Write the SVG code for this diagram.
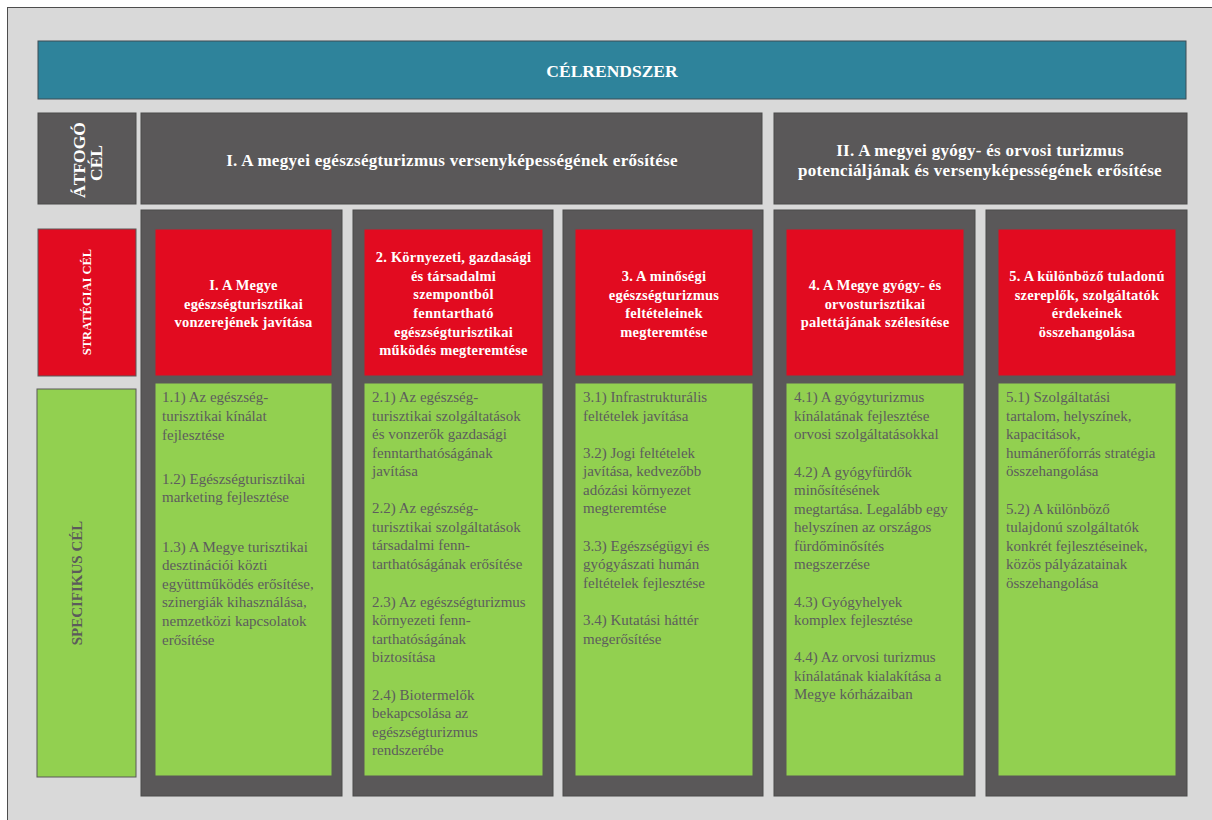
<svg xmlns="http://www.w3.org/2000/svg" width="1212" height="820" viewBox="0 0 1212 820">
<style>
.dark{fill:#5a5859;stroke:#4a4a4a;stroke-width:1}
.red{fill:#e20b20;stroke:#5a5859;stroke-width:1}
.green{fill:#92d050;stroke:#5a5859;stroke-width:1}
.hw{font-family:"Liberation Serif","Times New Roman",serif;font-weight:bold;fill:#ffffff;text-anchor:middle}
.rt{font-size:14.5px;letter-spacing:0.2px}
.gt{font-family:"Liberation Serif","Times New Roman",serif;font-size:15px;fill:#5d5d5d}
</style>
<rect x="0" y="0" width="1212" height="820" fill="#ffffff"/>
<rect x="7.5" y="7.5" width="1220" height="830" fill="#d9d9d9" stroke="#4d4d4d" stroke-width="1"/>

<g id="celrendszer">
<rect x="38" y="41" width="1148" height="58" fill="#2e839b" stroke="#3d4d55" stroke-width="1"/>
<text class="hw" x="612" y="77" font-size="17.5">CÉLRENDSZER</text>
</g>

<g id="atfogo-label">
<rect class="dark" x="38" y="113" width="98" height="91"/>
<text class="hw" font-size="17.5" transform="translate(85,160) rotate(-90)">ÁTFOGÓ</text>
<text class="hw" font-size="17.5" transform="translate(102,163) rotate(-90)">CÉL</text>
</g>

<g id="atfogo-1">
<rect class="dark" x="141" y="113" width="621" height="91"/>
<text class="hw" x="452" y="166" font-size="17" letter-spacing="0.3">I. A megyei egészségturizmus versenyképességének erősítése</text>
</g>

<g id="atfogo-2">
<rect class="dark" x="774" y="113" width="413" height="91"/>
<text class="hw" x="980" y="156" font-size="17" letter-spacing="0.3">II. A megyei gyógy- és orvosi turizmus</text>
<text class="hw" x="980" y="176" font-size="17" letter-spacing="0.3">potenciáljának és versenyképességének erősítése</text>
</g>

<g id="strategiai-label">
<rect class="red" x="38" y="229" width="98" height="147"/>
<text class="hw" font-size="12.5" transform="translate(91,302) rotate(-90)">STRATÉGIAI CÉL</text>
</g>

<g id="specifikus-label">
<rect class="green" x="37" y="389" width="99" height="388"/>
<text class="hw" font-size="15" style="fill:#5b5b5b" transform="translate(82,583) rotate(-90)">SPECIFIKUS CÉL</text>
</g>

<g id="col1">
<rect class="dark" x="141" y="210" width="201" height="586"/>
<rect class="red" x="155" y="229" width="177" height="147"/>
<text class="hw rt" x="243.5" y="290">I. A Megye</text>
<text class="hw rt" x="243.5" y="308.5">egészségturisztikai</text>
<text class="hw rt" x="243.5" y="327">vonzerejének javítása</text>
<rect class="green" x="155" y="383" width="177" height="393"/>
<text class="gt">
<tspan x="162" y="402">1.1)  Az egészség-</tspan>
<tspan x="162" y="421">turisztikai kínálat</tspan>
<tspan x="162" y="440">fejlesztése</tspan>
<tspan x="162" y="484">1.2) Egészségturisztikai</tspan>
<tspan x="162" y="502">marketing fejlesztése</tspan>
<tspan x="162" y="552">1.3) A Megye turisztikai</tspan>
<tspan x="162" y="570">desztinációi közti</tspan>
<tspan x="162" y="589">együttműködés erősítése,</tspan>
<tspan x="162" y="607">szinergiák kihasználása,</tspan>
<tspan x="162" y="626">nemzetközi kapcsolatok</tspan>
<tspan x="162" y="645">erősítése</tspan>
</text>
</g>

<g id="col2">
<rect class="dark" x="353" y="210" width="200" height="586"/>
<rect class="red" x="364" y="229" width="179" height="147"/>
<text class="hw rt" x="453.5" y="262">2. Környezeti, gazdasági</text>
<text class="hw rt" x="453.5" y="280.5">és társadalmi</text>
<text class="hw rt" x="453.5" y="299">szempontból</text>
<text class="hw rt" x="453.5" y="318">fenntartható</text>
<text class="hw rt" x="453.5" y="336.5">egészségturisztikai</text>
<text class="hw rt" x="453.5" y="355">működés megteremtése</text>
<rect class="green" x="364" y="383" width="179" height="393"/>
<text class="gt">
<tspan x="372" y="402">2.1)  Az egészség-</tspan>
<tspan x="372" y="421">turisztikai szolgáltatások</tspan>
<tspan x="372" y="439">és vonzerők gazdasági</tspan>
<tspan x="372" y="458">fenntarthatóságának</tspan>
<tspan x="372" y="476">javítása</tspan>
<tspan x="372" y="513">2.2) Az egészség-</tspan>
<tspan x="372" y="532">turisztikai szolgáltatások</tspan>
<tspan x="372" y="550">társadalmi fenn-</tspan>
<tspan x="372" y="569">tarthatóságának erősítése</tspan>
<tspan x="372" y="607">2.3) Az egészségturizmus</tspan>
<tspan x="372" y="625">környezeti fenn-</tspan>
<tspan x="372" y="644">tarthatóságának</tspan>
<tspan x="372" y="662">biztosítása</tspan>
<tspan x="372" y="700">2.4) Biotermelők</tspan>
<tspan x="372" y="718">bekapcsolása az</tspan>
<tspan x="372" y="737">egészségturizmus</tspan>
<tspan x="372" y="755">rendszerébe</tspan>
</text>
</g>

<g id="col3">
<rect class="dark" x="563" y="210" width="200" height="586"/>
<rect class="red" x="575" y="229" width="178" height="147"/>
<text class="hw rt" x="664" y="281">3. A minőségi</text>
<text class="hw rt" x="664" y="299.5">egészségturizmus</text>
<text class="hw rt" x="664" y="318">feltételeinek</text>
<text class="hw rt" x="664" y="336.5">megteremtése</text>
<rect class="green" x="575" y="383" width="178" height="393"/>
<text class="gt">
<tspan x="583" y="402">3.1)  Infrastrukturális</tspan>
<tspan x="583" y="421">feltételek javítása</tspan>
<tspan x="583" y="458">3.2) Jogi feltételek</tspan>
<tspan x="583" y="476">javítása, kedvezőbb</tspan>
<tspan x="583" y="495">adózási környezet</tspan>
<tspan x="583" y="513">megteremtése</tspan>
<tspan x="583" y="551">3.3) Egészségügyi és</tspan>
<tspan x="583" y="569">gyógyászati humán</tspan>
<tspan x="583" y="588">feltételek fejlesztése</tspan>
<tspan x="583" y="625">3.4) Kutatási háttér</tspan>
<tspan x="583" y="644">megerősítése</tspan>
</text>
</g>

<g id="col4">
<rect class="dark" x="774" y="210" width="201" height="586"/>
<rect class="red" x="786" y="229" width="178" height="147"/>
<text class="hw rt" x="875" y="290">4. A Megye gyógy- és</text>
<text class="hw rt" x="875" y="308.5">orvosturisztikai</text>
<text class="hw rt" x="875" y="327">palettájának szélesítése</text>
<rect class="green" x="786" y="383" width="178" height="393"/>
<text class="gt">
<tspan x="794" y="402">4.1)  A gyógyturizmus</tspan>
<tspan x="794" y="421">kínálatának fejlesztése</tspan>
<tspan x="794" y="439">orvosi szolgáltatásokkal</tspan>
<tspan x="794" y="477">4.2) A gyógyfürdők</tspan>
<tspan x="794" y="495">minősítésének</tspan>
<tspan x="794" y="514">megtartása. Legalább egy</tspan>
<tspan x="794" y="532">helyszínen az országos</tspan>
<tspan x="794" y="551">fürdőminősítés</tspan>
<tspan x="794" y="569">megszerzése</tspan>
<tspan x="794" y="607">4.3) Gyógyhelyek</tspan>
<tspan x="794" y="625">komplex fejlesztése</tspan>
<tspan x="794" y="662">4.4) Az orvosi turizmus</tspan>
<tspan x="794" y="681">kínálatának kialakítása a</tspan>
<tspan x="794" y="699">Megye kórházaiban</tspan>
</text>
</g>

<g id="col5">
<rect class="dark" x="986" y="210" width="201" height="586"/>
<rect class="red" x="998" y="229" width="178" height="147"/>
<text class="hw rt" x="1087" y="281">5. A különböző tuladonú</text>
<text class="hw rt" x="1087" y="299.5">szereplők, szolgáltatók</text>
<text class="hw rt" x="1087" y="318">érdekeinek</text>
<text class="hw rt" x="1087" y="336.5">összehangolása</text>
<rect class="green" x="998" y="383" width="178" height="393"/>
<text class="gt">
<tspan x="1006" y="402">5.1) Szolgáltatási</tspan>
<tspan x="1006" y="421">tartalom, helyszínek,</tspan>
<tspan x="1006" y="439">kapacitások,</tspan>
<tspan x="1006" y="458">humánerőforrás stratégia</tspan>
<tspan x="1006" y="476">összehangolása</tspan>
<tspan x="1006" y="514">5.2) A különböző</tspan>
<tspan x="1006" y="532">tulajdonú szolgáltatók</tspan>
<tspan x="1006" y="551">konkrét fejlesztéseinek,</tspan>
<tspan x="1006" y="569">közös pályázatainak</tspan>
<tspan x="1006" y="588">összehangolása</tspan>
</text>
</g>

<g id="connectors"></g>
</svg>
